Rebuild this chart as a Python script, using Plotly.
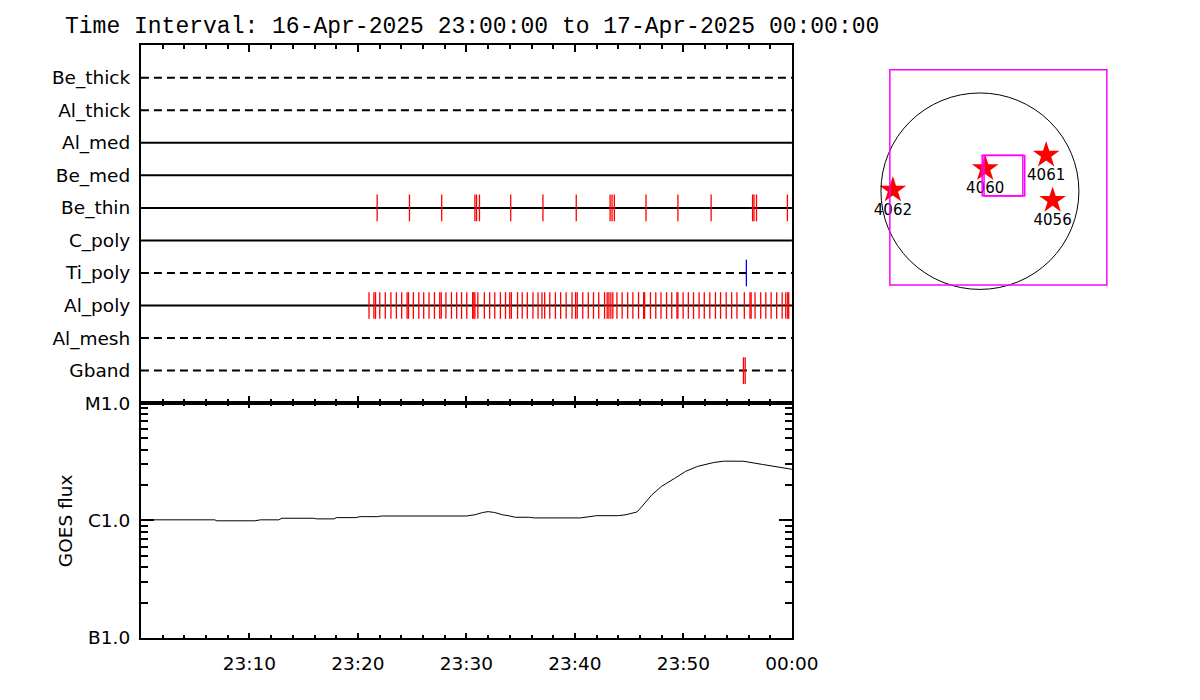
import plotly.graph_objects as go

# ---------------- data ----------------
TITLE = "Time Interval: 16-Apr-2025 23:00:00 to 17-Apr-2025 00:00:00"

# filter rows, bottom to top
row_labels = ["Gband", "Al_mesh", "Al_poly", "Ti_poly", "C_poly",
              "Be_thin", "Be_med", "Al_med", "Al_thick", "Be_thick"]
dashed_rows = ["Gband", "Al_mesh", "Ti_poly", "Al_thick", "Be_thick"]

# observation times, minutes after 23:00
be_thin_min = [21.77, 24.75, 27.72, 30.78, 30.93, 31.20, 34.08, 37.05, 40.12,
               43.24, 43.42, 43.63, 46.55, 49.49, 52.55, 56.37, 56.50, 56.73, 59.58]
al_poly_min = [21.02, 21.47, 21.62, 22.01, 22.52, 23.04, 23.54, 24.03, 24.53, 24.66,
               25.11, 25.61, 26.06, 26.55, 27.05, 27.54, 27.68, 28.11, 28.62, 29.10,
               29.55, 30.03, 30.57, 30.68, 30.78, 31.05, 31.65, 32.14, 32.61, 33.13,
               33.60, 33.99, 34.14, 34.71, 35.14, 35.61, 36.13, 36.60, 36.96, 37.21,
               37.68, 38.20, 38.68, 39.19, 39.73, 40.06, 40.21, 40.72, 41.23, 41.71,
               42.19, 42.73, 42.97, 43.13, 43.31, 43.49, 43.87, 44.35, 44.86, 45.34,
               45.86, 46.33, 46.42, 46.96, 47.45, 47.93, 48.44, 48.92, 49.40, 49.49,
               49.97, 50.45, 50.93, 51.44, 51.92, 52.43, 52.95, 53.42, 53.94, 54.44,
               54.93, 55.61, 56.13, 56.24, 56.60, 57.12, 57.59, 58.08, 58.59, 59.10,
               59.43, 59.61, 59.70]
ti_poly_min = [55.80]
gband_min = [55.53, 55.69]

# time axis ticks
time_tickvals = [0, 10, 20, 30, 40, 50, 60]
time_ticktext = ["", "23:10", "23:20", "23:30", "23:40", "23:50", "00:00"]

# GOES flux (W/m^2) vs minutes after 23:00
goes_min = [0, 1.2, 6.8, 7.0, 10.5, 11.0, 12.7, 13.0, 15.9, 16.2, 17.8, 18.0, 19.8,
            20.2, 21.8, 22.2, 30.0, 30.8, 31.5, 32.0, 32.6, 33.3, 34.0, 34.5,
            35.8, 36.2, 40.5, 41.3, 42.0, 44.0, 44.7, 45.7, 46.0, 47.1, 48.0, 49.2,
            50.2, 51.3, 52.8, 53.7, 55.5, 57.3, 59.7, 60.0]
goes_flux = [1.0e-6, 1.013e-6, 1.013e-6, 0.994e-6, 0.994e-6, 1.013e-6, 1.013e-6,
             1.045e-6, 1.045e-6, 1.032e-6, 1.032e-6, 1.058e-6, 1.058e-6, 1.078e-6,
             1.078e-6, 1.092e-6, 1.092e-6, 1.12e-6, 1.17e-6, 1.19e-6, 1.17e-6,
             1.12e-6, 1.092e-6, 1.065e-6, 1.065e-6, 1.052e-6, 1.052e-6, 1.085e-6,
             1.099e-6, 1.099e-6, 1.12e-6, 1.18e-6, 1.26e-6, 1.66e-6, 1.96e-6,
             2.29e-6, 2.62e-6, 2.89e-6, 3.12e-6, 3.2e-6, 3.2e-6, 3.0e-6, 2.75e-6,
             2.73e-6]
goes_tickvals = [1e-7, 1e-6, 1e-5]
goes_ticktext = ["B1.0", "C1.0", "M1.0"]
goes_minor = [2e-7, 3e-7, 4e-7, 5e-7, 6e-7, 7e-7, 8e-7, 9e-7,
              2e-6, 3e-6, 4e-6, 5e-6, 6e-6, 7e-6, 8e-6, 9e-6]

# solar disk map (arcsec)
sun_radius = 934
fov_center = (174, 131)
fov_size = 2048
sub_centers = [(213, 149), (231, 147)]
sub_size = 384
ar_numbers = ["4060", "4061", "4056", "4062"]
ar_x = [50, 625, 686, -821]
ar_y = [214, 343, -88, 11]

# ---------------- figure ----------------
W, H = 1200, 700
FONT = "DejaVu Sans"
TITLE_FONT = "Liberation Mono"
OFF = 8  # page offset of the plot inside the browser window


def px(x):
    return (x - OFF) / W


def py(y):
    return 1 - (y - OFF) / H


fig = go.Figure()

row_index = {name: i for i, name in enumerate(row_labels)}
for name in row_labels:
    r = row_index[name]
    fig.add_trace(go.Scatter(
        x=[0, 60], y=[r, r], mode="lines", xaxis="x", yaxis="y",
        line=dict(color="black", width=2,
                  dash="8px,5px" if name in dashed_rows else "solid"),
        hoverinfo="skip", showlegend=False))


def add_events(times, row, color):
    r = row_index[row]
    xs, ys = [], []
    for t in times:
        xs += [t, t, None]
        ys += [r - 0.41, r + 0.41, None]
    fig.add_trace(go.Scatter(x=xs, y=ys, mode="lines", xaxis="x", yaxis="y",
                             line=dict(color=color, width=1.3),
                             hoverinfo="skip", showlegend=False))


add_events(be_thin_min, "Be_thin", "#ff0000")
add_events(al_poly_min, "Al_poly", "#ff0000")
add_events(ti_poly_min, "Ti_poly", "#0000ff")
add_events(gband_min, "Gband", "#ff0000")

# GOES curve
fig.add_trace(go.Scatter(x=goes_min, y=goes_flux, mode="lines", xaxis="x2",
                         yaxis="y2", line=dict(color="black", width=1),
                         hoverinfo="skip", showlegend=False))

# active regions
fig.add_trace(go.Scatter(x=ar_x, y=ar_y, mode="markers+text", xaxis="x3",
                         yaxis="y3", text=ar_numbers, textposition="bottom center",
                         textfont=dict(family=FONT, size=15, color="black"),
                         marker=dict(symbol="star", size=20, color="#ff0000",
                                     line=dict(width=0)),
                         hoverinfo="skip", showlegend=False))

shapes = []
shapes.append(dict(type="circle", xref="x3", yref="y3",
                   x0=-sun_radius, x1=sun_radius, y0=-sun_radius, y1=sun_radius,
                   line=dict(color="black", width=1)))
shapes.append(dict(type="rect", xref="x3", yref="y3",
                   x0=fov_center[0] - fov_size / 2, x1=fov_center[0] + fov_size / 2,
                   y0=fov_center[1] - fov_size / 2, y1=fov_center[1] + fov_size / 2,
                   line=dict(color="#ff00ff", width=1.5)))
for cx, cy in sub_centers:
    shapes.append(dict(type="rect", xref="x3", yref="y3",
                       x0=cx - sub_size / 2, x1=cx + sub_size / 2,
                       y0=cy - sub_size / 2, y1=cy + sub_size / 2,
                       line=dict(color="#ff00ff", width=1.5)))

xdom = [px(144), px(810)]
axis_common = dict(showline=True, linecolor="black", linewidth=2, mirror="allticks",
                   showgrid=False, zeroline=False, ticks="inside", tickcolor="black",
                   tickwidth=2)

fig.update_layout(
    width=W, height=H,
    margin=dict(l=0, r=0, t=0, b=0),
    paper_bgcolor="white", plot_bgcolor="white",
    font=dict(family=FONT, size=18.5, color="black"),
    showlegend=False, hovermode=False,
    shapes=shapes,
    xaxis=dict(domain=xdom, anchor="y", range=[0, 60],
               tickmode="array", tickvals=time_tickvals, ticktext=time_ticktext,
               showticklabels=False, ticklen=7,
               minor=dict(tickmode="linear", tick0=0, dtick=2, ticks="inside",
                          ticklen=4, tickwidth=2, tickcolor="black"),
               **axis_common),
    yaxis=dict(domain=[py(404), py(35)], anchor="x", range=[-1, 10],
               tickmode="array", tickvals=list(range(len(row_labels))),
               ticktext=row_labels, showline=True, linecolor="black", linewidth=2,
               mirror=True, showgrid=False, zeroline=False, ticks="",
               ticklabelstandoff=5,
               tickfont=dict(family=FONT, size=18.5, color="black")),
    xaxis2=dict(domain=xdom, anchor="y2", range=[0, 60],
                tickmode="array", tickvals=time_tickvals, ticktext=time_ticktext,
                ticklen=5, ticklabelstandoff=8,
                tickfont=dict(family=FONT, size=18.5, color="black"),
                minor=dict(tickmode="linear", tick0=0, dtick=2, ticks="inside",
                           ticklen=2.5, tickwidth=2, tickcolor="black"),
                **axis_common),
    yaxis2=dict(domain=[py(646), py(404)], anchor="x2", type="log", range=[-7, -5],
                tickmode="array", tickvals=goes_tickvals, ticktext=goes_ticktext,
                ticklen=13, ticklabelstandoff=5,
                tickfont=dict(family=FONT, size=18.5, color="black"),
                minor=dict(tickmode="array", tickvals=goes_minor, ticks="inside",
                           ticklen=7, tickwidth=2, tickcolor="black"),
                **axis_common),
    xaxis3=dict(domain=[px(880), px(1150)], anchor="y3", range=[-1128, 1362.5],
                visible=False),
    yaxis3=dict(domain=[py(300), py(50)], anchor="x3", range=[-1056, 1250],
                visible=False),
    annotations=[
        dict(text=TITLE, xref="paper", yref="paper", x=px(64), y=py(16),
             xanchor="left", yanchor="middle", showarrow=False,
             font=dict(family=TITLE_FONT, size=23, color="black")),
        dict(text="GOES flux", xref="paper", yref="paper", x=px(67), y=py(525),
             xanchor="center", yanchor="middle", textangle=-90, showarrow=False,
             font=dict(family=FONT, size=18.5, color="black")),
    ],
)

fig.write_html("out.html")
